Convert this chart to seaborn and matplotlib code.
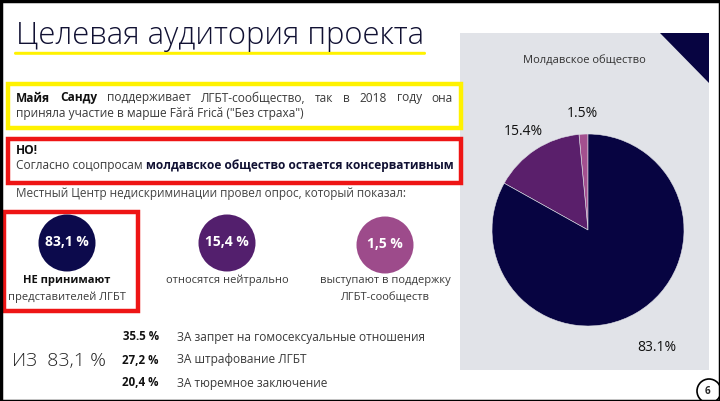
import matplotlib
matplotlib.use("Agg")
import matplotlib.pyplot as plt
from matplotlib.patches import Rectangle, Circle, Polygon, FancyBboxPatch
import numpy as np
import seaborn as sns

sns.set_theme(style="white")
FONT = ["Open Sans", "DejaVu Sans"]
plt.rcParams["font.family"] = FONT

# ---------------- data ----------------
title = "Целевая аудитория проекта"
pie_title = "Молдавское общество"
pie_values = [1.5, 15.4, 83.1]
pie_labels = ["1.5%", "15.4%", "83.1%"]
pie_colors = ["#a3508f", "#5a1f6b", "#070441"]

circle_values = ["83,1 %", "15,4 %", "1,5 %"]
circle_colors = ["#0c0a4c", "#531f6d", "#9d4b8b"]
circle_line1 = ["НЕ принимают", "относятся нейтрально", "выступают в поддержку"]
circle_line2 = ["представителей ЛГБТ", "", "ЛГБТ-сообществ"]

sub_share = "ИЗ  83,1 %"
sub_values = ["35.5 %", "27,2 %", "20,4 %"]
sub_labels = ["ЗА запрет на гомосексуальные отношения",
              "ЗА штрафование ЛГБТ",
              "ЗА тюремное заключение"]

line_yellow_1 = ["Майя", "Санду", "поддерживает", "ЛГБТ-сообщество,", "так", "в", "2018", "году", "она"]
line_yellow_2 = "приняла участие в марше Fără Frică (\"Без страха\")"
red_head = "НО!"
red_runs = [("Согласно соцопросам ", "normal"), ("молдавское общество остается консервативным", "bold")]
survey_text = "Местный Центр недискриминации провел опрос, который показал:"
page_no = "6"

# ---------------- figure ----------------
W, H = 720, 401
fig = plt.figure(figsize=(W / 100, H / 100), dpi=100)
fig.patch.set_facecolor("white")
ax = fig.add_axes([0, 0, 1, 1])
ax.set_xlim(0, W)
ax.set_ylim(H, 0)
ax.axis("off")
renderer = fig.canvas.get_renderer()

TXT = "#3a3a3a"
DARK = "#111133"

def width_of(t):
    bb = t.get_window_extent(renderer=renderer)
    return bb.width

# title
ax.text(16, 36, title, fontsize=22.3, color=DARK, va="center", ha="left",
        fontweight="light")
ax.add_patch(FancyBboxPatch((14, 51.8), 412, 3.0, boxstyle="round,pad=0,rounding_size=1.5",
                            fc="#fff200", ec="none"))

# gray panel + triangle
ax.add_patch(Rectangle((460, 33), 249, 337, fc="#e1e3e8", ec="none"))
ax.add_patch(Polygon([(660, 33), (709, 33), (709, 83)], closed=True, fc="#070441", ec="none"))
ax.text(584, 60, pie_title, fontsize=8.0, color="#333333", ha="center", va="center")

# yellow box
ax.add_patch(Rectangle((7.5, 83.5), 453, 44, fc="none", ec="#fff200", lw=3.2))
fs = 8.6
ts = []
for i, w in enumerate(line_yellow_1):
    ts.append(ax.text(0, 98, w, fontsize=fs, color=TXT if i > 1 else "#111111",
                      fontweight="bold" if i < 2 else "normal", va="center", ha="left"))
widths = [width_of(t) for t in ts]
x0, x1 = 16, 453
gap = (x1 - x0 - sum(widths)) / (len(ts) - 1)
x = x0
for t, wd in zip(ts, widths):
    t.set_x(x)
    x += wd + gap
ax.text(16, 114, line_yellow_2, fontsize=fs, color=TXT, va="center", ha="left")

# red box
ax.add_patch(Rectangle((7.5, 138.5), 453, 44, fc="none", ec="#ee1515", lw=3.2))
ax.text(16, 151, red_head, fontsize=fs, color="#111111", fontweight="bold", va="center")
x = 16
for s, wt in red_runs:
    t = ax.text(x, 166, s, fontsize=fs, color=TXT if wt == "normal" else "#111133",
                fontweight=wt, va="center", ha="left")
    x += width_of(t)

ax.text(16, 193, survey_text, fontsize=8.45, color="#444444", va="center", ha="left")

# small red box around first stat
ax.add_patch(Rectangle((3.5, 211.5), 134, 99, fc="none", ec="#ee1515", lw=3.2))

# stat circles
cx = [67, 227, 385]
cy = [243, 243, 245]
for i in range(3):
    ax.add_patch(Circle((cx[i], cy[i]), 28.5, fc=circle_colors[i], ec="none"))
    ax.text(cx[i], cy[i] - 1, circle_values[i], color="white", fontsize=10,
            fontweight="bold", ha="center", va="center")
    ax.text(cx[i], 280, circle_line1[i], fontsize=8.0,
            color="#111111" if i == 0 else TXT,
            fontweight="bold" if i == 0 else "normal", ha="center", va="center")
    if circle_line2[i]:
        ax.text(cx[i], 297, circle_line2[i], fontsize=8.0, color=TXT,
                ha="center", va="center")

# bottom breakdown
ax.text(12, 361, sub_share, fontsize=14, color="#222222", ha="left", va="center",
        fontweight="light")
sy = [337, 360, 383]
for i in range(3):
    ax.text(159, sy[i], sub_values[i], fontsize=8.3, color="#111111", fontweight="bold",
            ha="right", va="center")
    ax.text(177, sy[i], sub_labels[i], fontsize=8.6, color=TXT, ha="left", va="center")

# page number
ax.add_patch(Circle((709, 391), 12, fc="white", ec="black", lw=1.2))
ax.text(707, 391, page_no, fontsize=7, fontweight="bold", ha="center", va="center")

# frame
ax.add_patch(Rectangle((0.5, 0.5), W - 1, H - 1, fc="none", ec="black", lw=2.5, clip_on=False))

# ---------------- pie ----------------
pc, pr = (588, 230), 96
pax = fig.add_axes([(pc[0] - pr) / W, (H - pc[1] - pr) / H, 2 * pr / W, 2 * pr / H])
wedges, texts = pax.pie(pie_values, colors=pie_colors, startangle=90, counterclock=True,
                        labels=pie_labels, labeldistance=1.22,
                        wedgeprops=dict(linewidth=0.4, edgecolor="#e1e3e8"),
                        textprops=dict(fontsize=10, color="#111111"))
label_dist = [1.22, 1.23, 1.42]
for wdg, t, d in zip(wedges, texts, label_dist):
    ang = np.deg2rad((wdg.theta1 + wdg.theta2) / 2)
    t.set_position((d * np.cos(ang), d * np.sin(ang)))
    t.set_ha("center")
    t.set_va("center")
    t.set_clip_on(False)
pax.set_aspect("equal")
pax.set_xlim(-1, 1)
pax.set_ylim(-1, 1)
pax.axis("off")

fig.savefig("out.png", dpi=100, facecolor="white")
